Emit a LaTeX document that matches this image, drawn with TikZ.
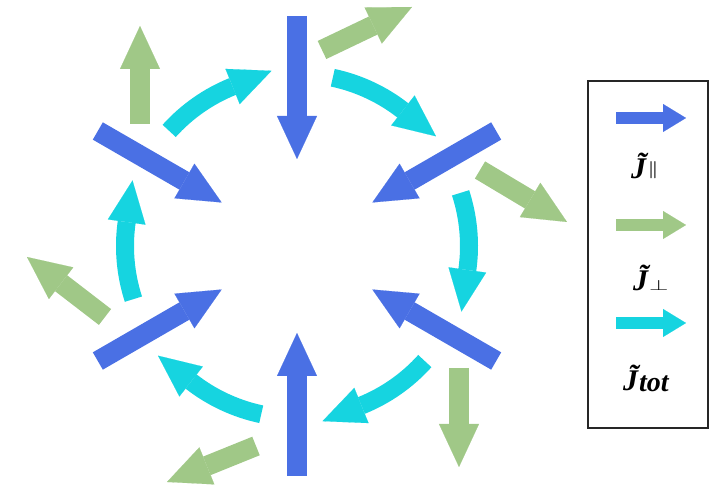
\documentclass[tikz,border=0pt]{standalone}
\usepackage{graphicx}
\usepackage{fontspec}
\setmainfont{Liberation Serif}
\usetikzlibrary{arrows.meta}

\definecolor{jpar}{RGB}{74,112,228}
\definecolor{jperp}{RGB}{160,200,135}
\definecolor{jtot}{RGB}{22,212,224}

\begin{document}
\begin{tikzpicture}[x=1pt, y=1pt]

    % --- Grundeinstellungen für Styles ---
    % Breite Blockpfeile: Schaft als dicke Linie, Spitze als Dreieck
    \tikzset{
        pfeil/.style={line width=20pt, -{Triangle[width=40pt, length=43pt, line width=0.1pt]}},
        bogenpfeil/.style={line width=18pt, -{Triangle[width=38pt, length=42pt, line width=0.1pt]}},
        legendenpfeil/.style={line width=12pt, -{Triangle[width=28pt, length=23pt, line width=0.1pt]}},
        stromPar/.style={color=jpar},
        stromSenk/.style={color=jperp},
        stromTot/.style={color=jtot},
        rahmen/.style={draw=black!85, line width=1.6pt},
        beschriftung/.style={font=\fontsize{30}{36}\selectfont\bfseries\itshape, anchor=base west, inner sep=0pt}
    }

    % feste Bildgröße
    \useasboundingbox (0,0) rectangle (710,487);

    % --- 1. Ring aus Pfeilen um den Mittelpunkt ---
    \begin{scope}[shift={(297,241)}]

        % Blaue Pfeile (radial nach innen)
        \foreach \w in {90,30,-30,-90,-150,150}
            \draw[pfeil, stromPar] (\w:230) -- (\w:87);

        % Türkise Bogenpfeile (im Uhrzeigersinn), Spitze tangential
        \foreach \w in {90,30,-30,-90,-150,150}
            \draw[bogenpfeil, stromTot] (\w-12:172) arc[start angle=\w-12, end angle=\w-38, radius=172]
                -- ++(\w-128:42);

    \end{scope}

    % Grüne Pfeile (außen, jeweils Anfang/Ende)
    \foreach \xa/\ya/\xb/\yb in {322/437/412/480, 480/317/567/265, 459/119/459/20,
                                 256/41/167/5, 105/170/27/230, 140/363/140/461}
        \draw[pfeil, stromSenk] (\xa,\ya) -- (\xb,\yb);

    % --- 2. Legende ---
    \draw[rahmen] (588,59) rectangle (708,406);

    \draw[legendenpfeil, stromPar] (616,369) -- (686,369);
    \draw[legendenpfeil, stromSenk] (616,262) -- (686,262);
    \draw[legendenpfeil, stromTot] (616,164) -- (686,164);

    % Indizes von Hand gesetzt (aufrecht, auf der Grundlinie)
    \node[beschriftung] (lpar) at (631,308)
        {\~{J}\hspace{2pt}\raisebox{4.5pt}{\fontsize{18}{20}\selectfont\boldmath$\parallel$}};
    \node[beschriftung] (lsenk) at (633,196)
        {\~{J}\hspace{1pt}\scalebox{1}[0.6]{\fontsize{25}{28}\selectfont$\perp$}};
    \node[beschriftung] (ltot) at (623,96)
        {\~{J}\hspace{1pt}\raisebox{-1pt}{\fontsize{28}{30}\selectfont tot}};

\end{tikzpicture}
\end{document}
